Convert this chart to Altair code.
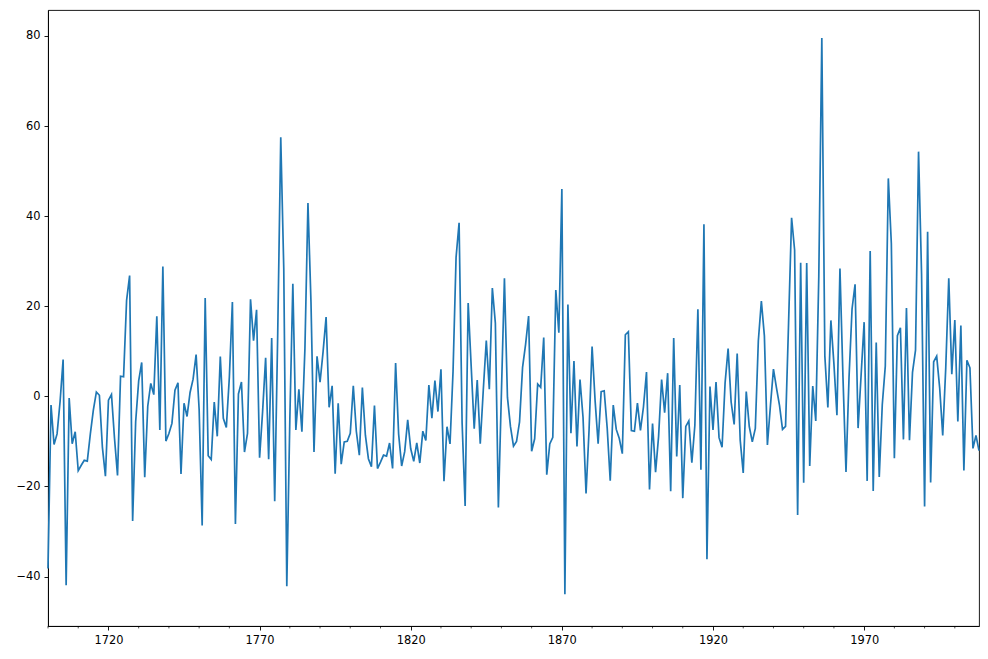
import altair as alt
import pandas as pd

# Residuals of an AR(3) model on yearly sunspot activity, 1700-2008
start_year = 1700
resid = [
    -38.20, -1.91, -10.69, -8.34, -1.13, 8.17, -41.94, -0.35, -10.52, -7.85,
    -16.50, -15.30, -14.20, -14.37, -8.37, -3.06, 0.96, 0.24, -11.33, -17.71,
    -0.84, 0.41, -9.30, -17.54, 4.48, 4.36, 21.30, 26.82, -27.64, -5.64,
    3.43, 7.54, -17.95, -2.19, 2.86, 0.39, 17.79, -7.47, 28.85, -9.92,
    -8.24, -6.01, 1.39, 3.01, -17.23, -1.54, -4.46, 0.86, 3.81, 9.27,
    -2.93, -28.67, 21.85, -13.19, -14.03, -1.24, -8.87, 8.83, -4.88, -6.90,
    4.28, 20.93, -28.34, 0.53, 3.20, -12.36, -8.21, 21.55, 12.37, 19.23,
    -13.61, -3.33, 8.56, -13.94, 12.94, -23.26, 13.99, 57.51, 28.28, -42.14,
    -5.29, 25.02, -7.44, 1.55, -7.83, 10.65, 42.93, 20.97, -12.32, 8.88,
    3.14, 9.87, 17.59, -2.42, 2.35, -17.19, -1.56, -15.04, -10.10, -9.97,
    -8.20, 2.36, -7.74, -13.04, 1.95, -8.62, -13.83, -15.62, -2.05, -16.02,
    -14.59, -13.04, -13.26, -10.36, -16.01, 7.40, -8.37, -15.45, -12.27, -5.20,
    -11.63, -14.41, -10.32, -14.79, -7.72, -9.79, 2.50, -4.85, 3.51, -3.37,
    6.03, -18.82, -6.73, -10.56, 5.55, 30.85, 38.53, -5.89, -24.35, 20.72,
    6.72, -7.17, 3.63, -10.52, 1.37, 12.40, 1.58, 24.06, 16.26, -24.65,
    0.70, 26.20, -0.24, -6.73, -11.04, -10.03, -5.66, 6.42, 11.56, 17.84,
    -12.19, -9.42, 2.75, 2.01, 13.04, -17.38, -10.55, -9.08, 23.58, 14.15,
    46.03, -43.90, 20.41, -8.20, 7.86, -11.10, 3.72, -4.63, -21.55, -7.42,
    11.07, -0.99, -10.51, 1.06, 1.25, -7.06, -18.74, -1.95, -7.33, -9.36,
    -12.71, 13.68, 14.35, -7.61, -7.75, -1.52, -7.55, -2.31, 5.39, -20.66,
    -6.04, -16.81, -8.88, 3.74, -3.61, 5.15, -21.06, 12.96, -13.34, 2.53,
    -22.59, -6.66, -5.44, -14.74, -6.42, 19.33, -16.26, 38.19, -36.16, 2.19,
    -7.47, 3.19, -9.16, -11.30, 2.99, 10.60, -1.25, -6.21, 9.49, -9.72,
    -17.01, 1.06, -6.69, -10.10, -7.09, 12.36, 21.14, 13.43, -10.80, -2.07,
    6.05, 1.87, -1.99, -7.34, -6.66, 16.20, 39.64, 32.50, -26.31, 29.67,
    -19.17, 29.61, -15.45, 2.30, -5.44, 26.66, 79.55, 8.99, -2.45, 16.86,
    7.27, -4.20, 28.40, 4.17, -16.76, 4.12, 19.40, 24.89, -7.04, 4.74,
    16.47, -18.76, 32.28, -21.00, 11.95, -17.90, -1.87, 6.70, 48.38, 33.92,
    -13.74, 13.49, 15.21, -9.55, 19.60, -9.71, 5.31, 10.25, 54.32, 27.17,
    -24.45, 36.51, -19.10, 7.69, 8.92, 1.81, -8.66, 6.32, 26.21, 4.94,
    16.93, -5.60, 15.71, -16.44, 8.01, 6.34, -11.54, -8.66, -12.03,
]
years = list(range(start_year, start_year + len(resid)))

major_years = [1720, 1770, 1820, 1870, 1920, 1970]
minor_years = [1700, 1710, 1730, 1740, 1750, 1760, 1780, 1790, 1800, 1810,
               1830, 1840, 1850, 1860, 1880, 1890, 1900, 1910, 1930, 1940,
               1950, 1960, 1980, 1990, 2000]
y_ticks = [-40, -20, 0, 20, 40, 60, 80]

df = pd.DataFrame({"year": years, "resid": resid})
minor_df = pd.DataFrame({"year": minor_years})

W, H = 931, 616

x_scale = alt.Scale(domain=[1700, 2008], nice=False, zero=False)

line = alt.Chart(df).mark_line(color="#1f77b4", strokeWidth=1.7).encode(
    x=alt.X("year:Q", scale=x_scale,
            axis=alt.Axis(values=major_years, format="d", title=None, grid=False,
                          labelFlush=False)),
    y=alt.Y("resid:Q", scale=alt.Scale(domain=[-50.97, 85.76], nice=False, zero=False),
            axis=alt.Axis(values=y_ticks, title=None, grid=False)),
)

minor = alt.Chart(minor_df).mark_rule(color="black", strokeWidth=0.7).encode(
    x=alt.X("year:Q", scale=x_scale),
    y=alt.value(H),
    y2=alt.value(H + 2.4),
)

chart = alt.layer(line, minor).properties(
    width=W, height=H,
    autosize=alt.AutoSizeParams(type="none"),
    padding={"left": 40, "top": 2, "right": 1, "bottom": 30},
).configure_view(
    stroke="black", strokeWidth=0.9
).configure_axis(
    labelFont="DejaVu Sans", labelFontSize=11.4, labelColor="black",
    tickColor="black", tickSize=4, tickWidth=0.9,
    domainColor="black", domainWidth=0.9, labelPadding=4,
)

chart.save("out.html", embed_options={"renderer": "svg", "actions": False})
